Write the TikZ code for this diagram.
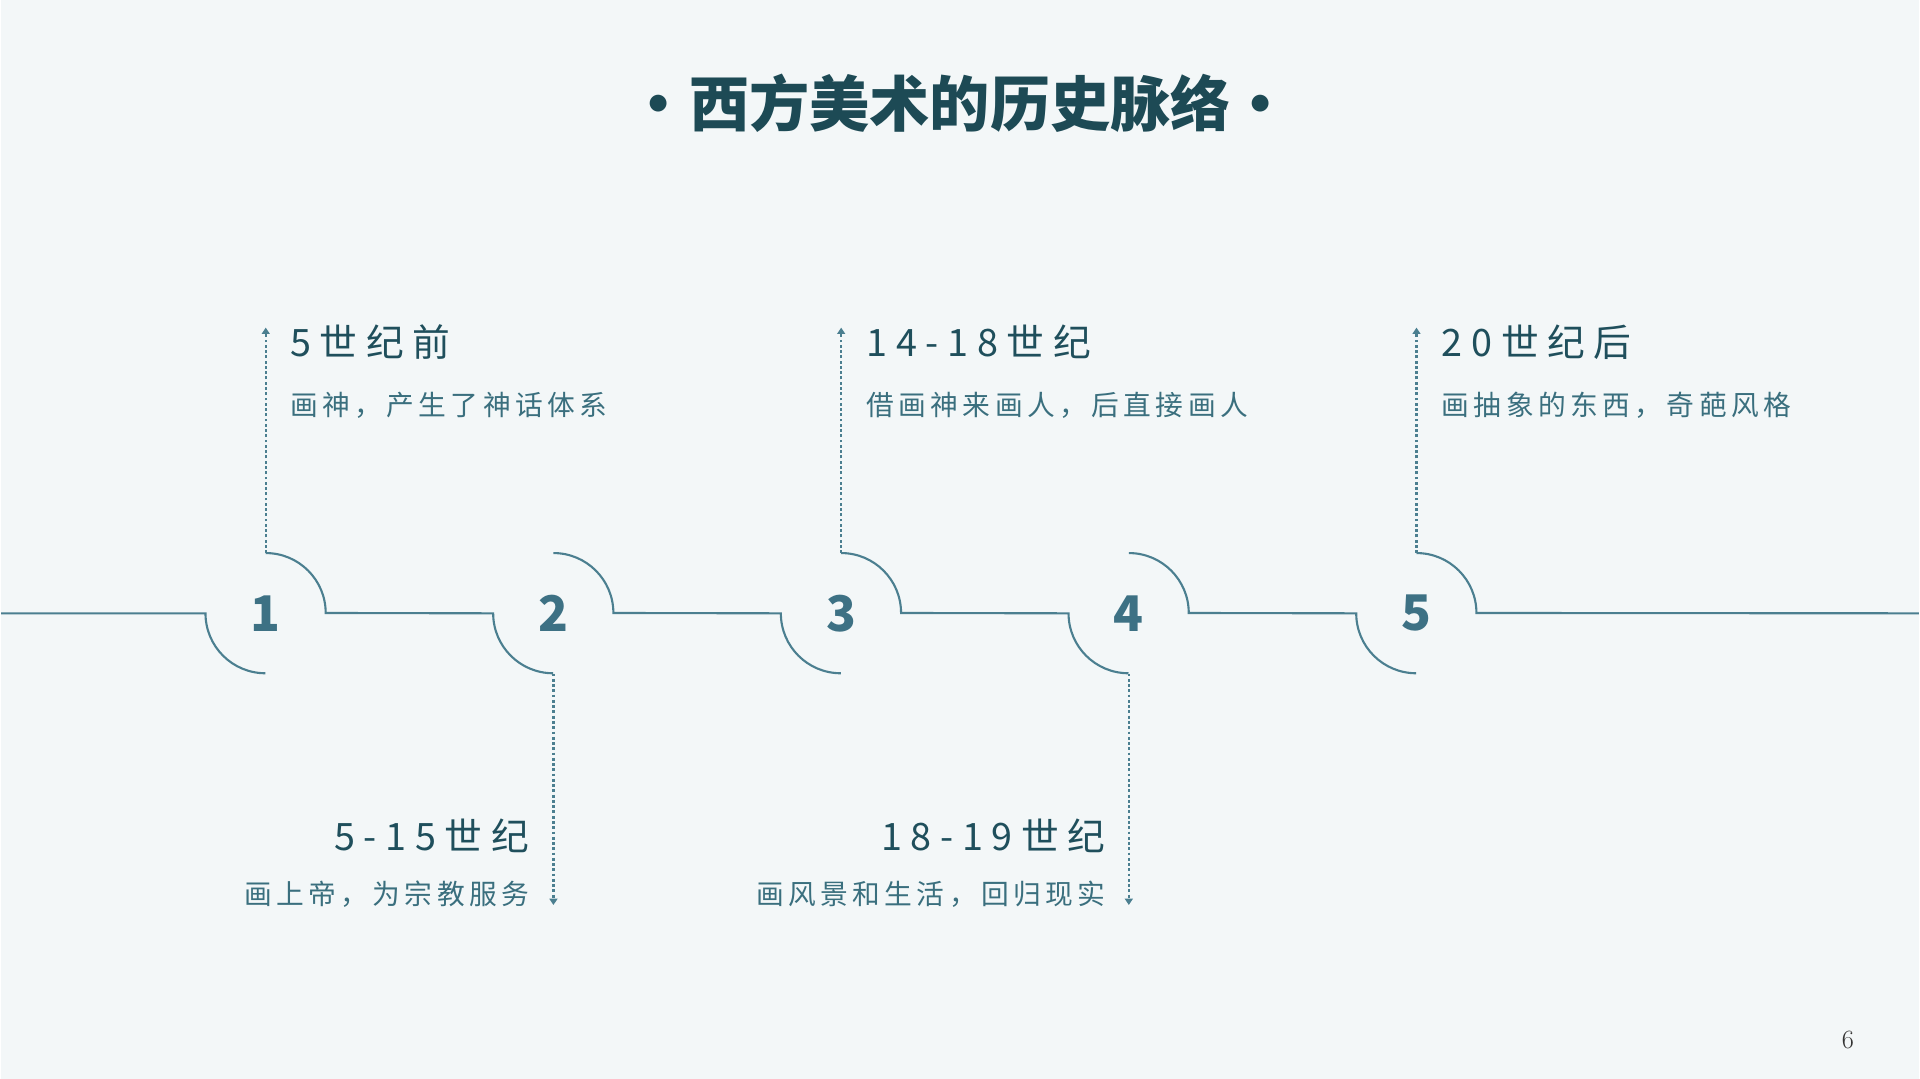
\documentclass[tikz,border=0pt]{standalone}
\usepackage{fontspec}
\usepackage{tikz}
\usetikzlibrary{calc}
\usetikzlibrary{arrows.meta}
\usetikzlibrary{positioning}

\newfontfamily\cjk{Noto Sans CJK SC}
\newfontfamily\cjkhead[LetterSpace=23]{Noto Sans CJK SC}
\newfontfamily\cjkdesc[LetterSpace=16]{Noto Sans CJK SC}

\definecolor{bgpaper}{HTML}{F3F7F8}
\definecolor{railblue}{HTML}{4B7F90}
\definecolor{numblue}{HTML}{3D7184}
\definecolor{headteal}{HTML}{1F4F5C}
\definecolor{descteal}{HTML}{3A6F7E}
\definecolor{titleteal}{HTML}{1D4A55}
\definecolor{pagegrey}{HTML}{333333}

\begin{document}
\begin{tikzpicture}[x=0.02cm, y=0.02cm,
    rail/.style={line width=1.2pt, draw=railblue},
    guide/.style={line width=1.2pt, draw=railblue, dash pattern=on 1.6pt off 1.4pt,
        -{Triangle[length=3.6pt, width=4.5pt]}},
    stage/.style={circle, minimum size=2.4cm, inner sep=0pt, text=numblue,
        font=\cjk\bfseries\fontsize{28}{30}\selectfont},
    era/.style={inner sep=0pt, text=headteal, font=\cjkhead\fontsize{21.5}{24}\selectfont},
    deed/.style={inner sep=0pt, text=descteal, font=\cjkdesc\fontsize{15.8}{18}\selectfont}]
                \fill[bgpaper] (0,0) rectangle (1920,1080);
                \node[text=titleteal, font=\cjk\bfseries\fontsize{34.3}{38}\selectfont] (title) at (960,977) {·西方美术的历史脉络·};
                \foreach \i/\x in {1/265,2/553,3/841,4/1129,5/1417}
                    \node[stage] (n\i) at (\x,466) {\i};
                \coordinate (railL) at (0,466);
                \coordinate (railR) at (1920,466);
                \draw[rail] (railL) -- (n1.west) arc[start angle=180, end angle=270, radius=60];
                \foreach \i/\j in {1/2,2/3,3/4,4/5}
                    \draw[rail] (n\i.north) arc[start angle=90, end angle=0, radius=60]
                        -- (n\j.west) arc[start angle=180, end angle=270, radius=60];
                \draw[rail] (n5.north) arc[start angle=90, end angle=0, radius=60] -- (railR);
                \coordinate (tip1) at (265,752);
                \coordinate (tip2) at (553,174);
                \coordinate (tip3) at (841,752);
                \coordinate (tip4) at (1129,174);
                \coordinate (tip5) at (1417,752);
                \draw[guide] (n1.north) -- (tip1);
                \draw[guide] (n2.south) -- (tip2);
                \draw[guide] (n3.north) -- (tip3);
                \draw[guide] (n4.south) -- (tip4);
                \draw[guide] (n5.north) -- (tip5);
                \node[era, anchor=base west] (era1) at (289,723) {5世纪前};
                \node[deed, anchor=base west] (deed1) at (289,664) {画神，产生了神话体系};
                \node[era, anchor=base east] (era2) at (529,229) {5-15世纪};
                \node[deed, anchor=base east] (deed2) at (529,175) {画上帝，为宗教服务};
                \node[era, anchor=base west] (era3) at (866,723) {14-18世纪};
                \node[deed, anchor=base west] (deed3) at (866,664) {借画神来画人，后直接画人};
                \node[era, anchor=base east] (era4) at (1106,229) {18-19世纪};
                \node[deed, anchor=base east] (deed4) at (1106,175) {画风景和生活，回归现实};
                \node[era, anchor=base west] (era5) at (1442,723) {20世纪后};
                \node[deed, anchor=base west] (deed5) at (1442,664) {画抽象的东西，奇葩风格};
                \node[text=pagegrey, font=\fontsize{15}{18}\selectfont] (page) at (1849,39) {6};
            \end{tikzpicture}
\end{document}
